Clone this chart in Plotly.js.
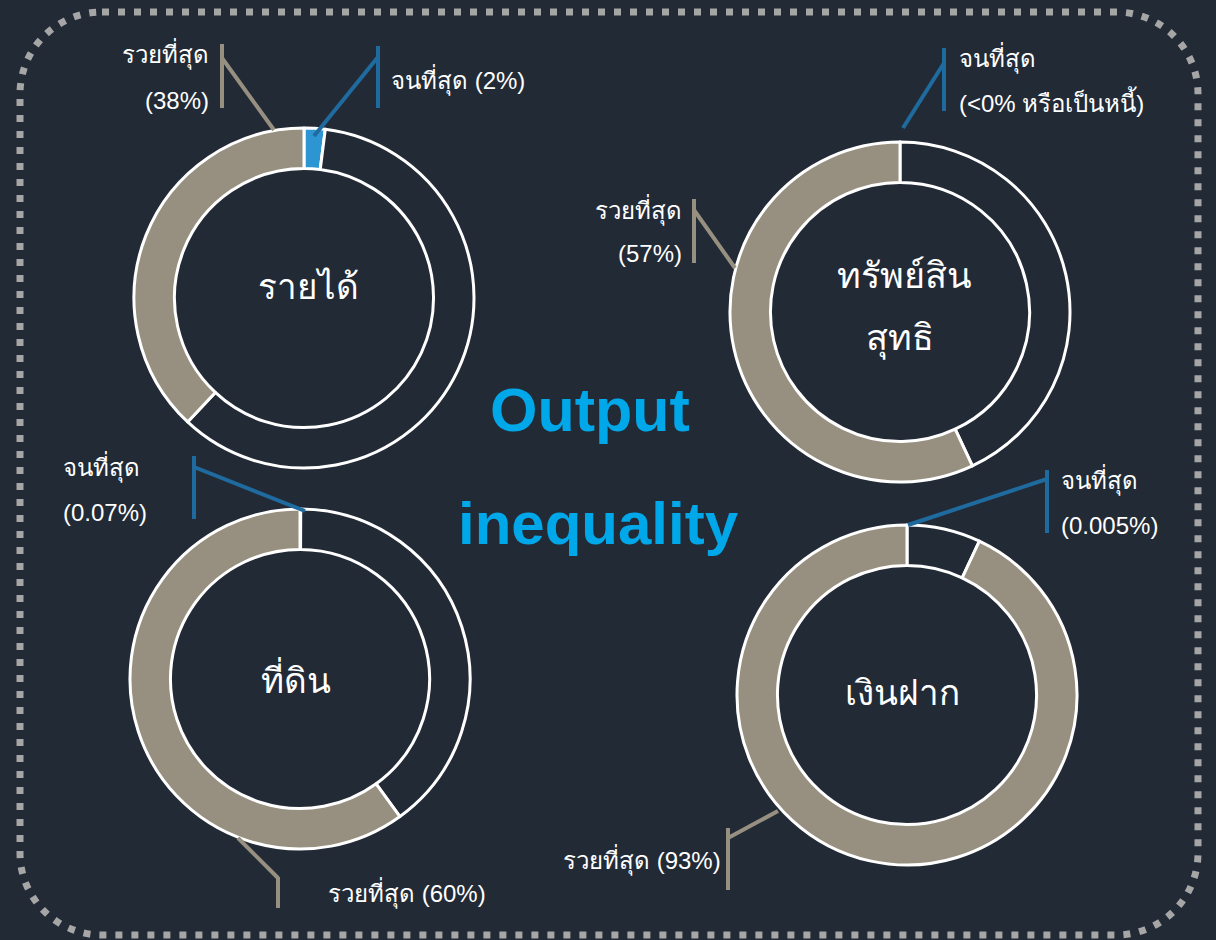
<!DOCTYPE html>
<html>
<head>
<meta charset="utf-8">
<script src="https://cdn.plot.ly/plotly-3.0.1.min.js"></script>
<style>
  html, body { margin: 0; padding: 0; background: #222a36; }
  #chart { width: 1216px; height: 940px; }
</style>
</head>
<body>
<div id="chart"></div>
<script>
// ---- data ----
const chartNames = ['รายได้', 'ทรัพย์สิน<br>สุทธิ', 'ที่ดิน', 'เงินฝาก'];
const richestShare = [38, 57, 60, 93];
const poorestShare = [2, 0, 0.07, 0.005];
const poorestText = ['2%', '<0% หรือเป็นหนี้', '0.07%', '0.005%'];
const richLabel = 'รวยที่สุด';
const poorLabel = 'จนที่สุด';

// ---- styling / layout ----
const W = 1216, H = 940;
const BG = '#222a36';
const TAN = '#979080';
const BLUE_SLICE = '#2e95d3';
const BLUE_LINE = '#1f6b9f';
const FONT = '"Liberation Sans", Arial, "Noto Sans", sans-serif';
const px = x => x / W;
const py = y => 1 - y / H;

const centers = [[304, 298], [900, 312], [300, 679], [907, 695]];
const R = 170;

const traces = chartNames.map((name, i) => {
  const [cx, cy] = centers[i];
  const rest = 100 - richestShare[i] - poorestShare[i];
  return {
    type: 'pie',
    values: [poorestShare[i], rest, richestShare[i]],
    labels: ['poorest', 'rest', 'richest'],
    sort: false,
    direction: 'clockwise',
    rotation: 0,
    hole: 0.762,
    textinfo: 'none',
    hoverinfo: 'skip',
    showlegend: false,
    marker: {
      colors: [BLUE_SLICE, BG, TAN],
      line: { color: '#ffffff', width: 3 }
    },
    domain: { x: [px(cx - R), px(cx + R)], y: [py(cy + R), py(cy - R)] }
  };
});

function seg(pts, color) {
  let d = 'M ' + px(pts[0][0]) + ',' + py(pts[0][1]);
  for (let k = 1; k < pts.length; k++) d += ' L ' + px(pts[k][0]) + ',' + py(pts[k][1]);
  return { type: 'path', xref: 'paper', yref: 'paper', path: d, line: { color: color, width: 4 }, layer: 'above' };
}

const shapes = [];
// rounded dotted frame
(function () {
  const x0 = 20, x1 = 1198, y0 = 12, y1 = 935, r = 82, k = 0.5523 * r;
  const P = (x, y) => px(x) + ',' + py(y);
  const d = 'M ' + P(x0 + r, y0) + ' L ' + P(x1 - r, y0) +
    ' C ' + P(x1 - r + k, y0) + ' ' + P(x1, y0 + r - k) + ' ' + P(x1, y0 + r) +
    ' L ' + P(x1, y1 - r) +
    ' C ' + P(x1, y1 - r + k) + ' ' + P(x1 - r + k, y1) + ' ' + P(x1 - r, y1) +
    ' L ' + P(x0 + r, y1) +
    ' C ' + P(x0 + r - k, y1) + ' ' + P(x0, y1 - r + k) + ' ' + P(x0, y1 - r) +
    ' L ' + P(x0, y0 + r) +
    ' C ' + P(x0, y0 + r - k) + ' ' + P(x0 + r - k, y0) + ' ' + P(x0 + r, y0) + ' Z';
  shapes.push({ type: 'path', xref: 'paper', yref: 'paper', path: d,
    line: { color: '#a6a6a6', width: 7, dash: '7px,9px' }, layer: 'below' });
})();

// leader lines
shapes.push(seg([[222, 44], [222, 108]], TAN), seg([[222, 58], [274, 130]], TAN));
shapes.push(seg([[378, 46], [378, 108]], BLUE_LINE), seg([[378, 57], [314, 136]], BLUE_LINE));
shapes.push(seg([[944, 48], [944, 111]], BLUE_LINE), seg([[944, 63], [903, 128]], BLUE_LINE));
shapes.push(seg([[694, 199], [694, 263]], TAN), seg([[694, 210], [735, 268]], TAN));
shapes.push(seg([[194, 456], [194, 519]], BLUE_LINE), seg([[194, 467], [305, 511]], BLUE_LINE));
shapes.push(seg([[278, 877], [278, 908]], TAN), seg([[278, 878], [238, 838]], TAN));
shapes.push(seg([[1047, 470], [1047, 533]], BLUE_LINE), seg([[1047, 479], [908, 525]], BLUE_LINE));
shapes.push(seg([[728, 828], [728, 890]], TAN), seg([[728, 838], [778, 811]], TAN));

function ann(text, x, y, xanchor, size, color, bold) {
  return {
    text: bold ? '<b>' + text + '</b>' : text,
    x: px(x), y: py(y), xref: 'paper', yref: 'paper',
    xanchor: xanchor, yanchor: 'middle', showarrow: false,
    font: { family: FONT, size: size, color: color || '#ffffff' }
  };
}

const annotations = [];
// centre names
const nameParts = chartNames.map(n => n.split('<br>'));
annotations.push(ann(nameParts[0][0], 308, 287, 'center', 35));
annotations.push(ann(nameParts[1][0], 905, 275, 'center', 36));
annotations.push(ann(nameParts[1][1], 900, 338, 'center', 36));
annotations.push(ann(nameParts[2][0], 296, 678, 'center', 35));
annotations.push(ann(nameParts[3][0], 902, 692, 'center', 35));

// side labels
const LS = 24;
annotations.push(ann(richLabel, 211, 54, 'right', LS));
annotations.push(ann('(' + richestShare[0] + '%)', 211, 100, 'right', LS));
annotations.push(ann(poorLabel + ' (' + poorestText[0] + ')', 389, 80, 'left', LS));

annotations.push(ann(poorLabel, 957, 58, 'left', LS));
annotations.push(ann('(' + poorestText[1] + ')', 957, 102, 'left', LS));
annotations.push(ann(richLabel, 684, 210, 'right', LS));
annotations.push(ann('(' + richestShare[1] + '%)', 684, 253, 'right', LS));

annotations.push(ann(poorLabel, 61, 467, 'left', LS));
annotations.push(ann('(' + poorestText[2] + ')', 61, 512, 'left', LS));
annotations.push(ann(richLabel + ' (' + richestShare[2] + '%)', 326, 893, 'left', LS));

annotations.push(ann(poorLabel, 1059, 480, 'left', LS));
annotations.push(ann('(' + poorestText[3] + ')', 1059, 525, 'left', LS));
annotations.push(ann(richLabel + ' (' + richestShare[3] + '%)', 723, 860, 'right', LS));

// title
annotations.push(ann('Output', 590, 410, 'center', 61, '#00a8ea', true));
annotations.push(ann('inequality', 598, 523, 'center', 60, '#00a8ea', true));

const layout = {
  width: W, height: H,
  margin: { l: 0, r: 0, t: 0, b: 0 },
  paper_bgcolor: BG, plot_bgcolor: BG,
  showlegend: false,
  shapes: shapes,
  annotations: annotations
};

Plotly.newPlot('chart', traces, layout, { displayModeBar: false, staticPlot: true });
</script>
</body>
</html>
